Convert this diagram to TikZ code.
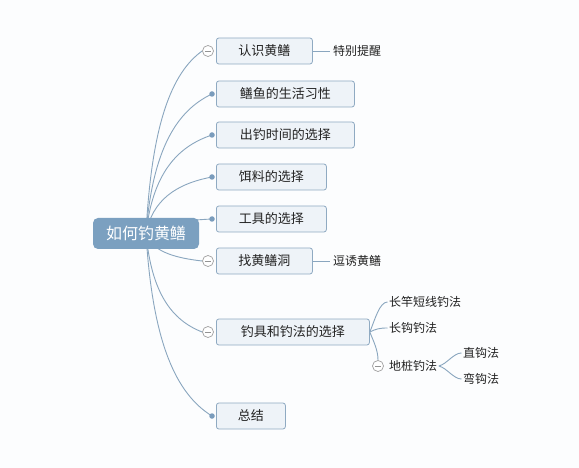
\documentclass[tikz,border=0pt]{standalone}
\usepackage{fontspec}
\newfontfamily\cjk{Noto Sans CJK SC}
\definecolor{bgc}{HTML}{FCFDFE}
\definecolor{rootfill}{HTML}{7BA0C0}
\definecolor{boxfill}{HTML}{EEF3F8}
\definecolor{boxdraw}{HTML}{8FAAC2}
\definecolor{linec}{HTML}{8AA6BF}
\definecolor{dotc}{HTML}{7A9CBC}
\definecolor{txt}{HTML}{222222}
\pgfdeclarelayer{back}
\pgfsetlayers{back,main}
\begin{document}
\begin{tikzpicture}[x=1pt,y=-1pt,
  box/.style={draw=boxdraw, fill=boxfill, rounded corners=2.5pt, minimum height=26pt,
    inner sep=0pt, anchor=west, font=\cjk\fontsize{13}{13}\selectfont, text=txt, line width=0.8pt},
  rootbox/.style={fill=rootfill, rounded corners=5pt, inner sep=0pt,
    font=\cjk\fontsize{16}{16}\selectfont, text=white},
  leaf/.style={anchor=west, inner sep=1.5pt, font=\cjk\fontsize{12}{12}\selectfont, text=txt},
  collapse/.style={circle, draw=gray!75, fill=white, minimum size=11pt, inner sep=0pt, line width=0.7pt,
    path picture={\draw[gray!85, line width=0.8pt] ([xshift=-3.2pt]path picture bounding box.center) -- ([xshift=3.2pt]path picture bounding box.center);}},
  dotn/.style={circle, fill=dotc, minimum size=5.5pt, inner sep=0pt},
  conn/.style={draw=linec, line width=0.9pt}]
\useasboundingbox (0,0) rectangle (579,468);
\begin{pgfonlayer}{back}
\fill[bgc] (0,0) rectangle (579,468);
\end{pgfonlayer}

% root
\node[rootbox, minimum width=106pt, minimum height=31pt] (root) at (146,233.5) {如何钓黄鳝};

% main branches
\node[box, minimum width=96pt]  (b1) at (216,51)  {认识黄鳝};
\node[box, minimum width=138pt] (b2) at (216,94)  {鳝鱼的生活习性};
\node[box, minimum width=138pt] (b3) at (216,135) {出钓时间的选择};
\node[box, minimum width=110pt] (b4) at (216,177) {饵料的选择};
\node[box, minimum width=110pt] (b5) at (216,219) {工具的选择};
\node[box, minimum width=96pt]  (b6) at (216,261) {找黄鳝洞};
\node[box, minimum width=153pt] (b7) at (216,332) {钓具和钓法的选择};
\node[box, minimum width=69pt]  (b8) at (216,416) {总结};

% markers
\node[collapse] (c1) at (208,51) {};
\node[dotn] (d2) at (212,94) {};
\node[dotn] (d3) at (212,135) {};
\node[dotn] (d4) at (212,177) {};
\node[dotn] (d5) at (212,219) {};
\node[collapse] (c6) at (208,261) {};
\node[collapse] (c7) at (208,332) {};
\node[dotn] (d8) at (212,416) {};

% leaves
\node[leaf, inner sep=3pt] (t1) at (330,51) {特别提醒};
\node[leaf, inner sep=3pt] (t6) at (330,261) {逗诱黄鳝};
\node[leaf] (s1) at (387.5,302) {长竿短线钓法};
\node[leaf] (s2) at (387.5,328) {长钩钓法};
\node[leaf] (s3) at (387.5,366) {地桩钓法};
\node[collapse] (c9) at (378,366) {};
\node[leaf] (u1) at (461.5,353) {直钩法};
\node[leaf] (u2) at (461.5,379) {弯钩法};

\begin{pgfonlayer}{back}
\draw[conn] (root.center) .. controls +(5.5,-109.2) and +(-30.5,21.8) .. (c1.west);
\draw[conn] (root.center) .. controls +(6.5,-83.4) and +(-35.7,16.7) .. (d2.center);
\draw[conn] (root.center) .. controls +(6.5,-58.8) and +(-35.7,11.8) .. (d3.center);
\draw[conn] (root.center) .. controls +(6.5,-33.6) and +(-35.7,6.7) .. (d4.center);
\draw[conn] (root.center) .. controls +(6.5,-8.4) and +(-35.7,1.7) .. (d5.center);
\draw[conn] (root.center) .. controls +(5.5,16.8) and +(-30.5,-3.4) .. (c6.west);
\draw[conn] (root.center) .. controls +(5.5,59.4) and +(-30.5,-11.9) .. (c7.west);
\draw[conn] (root.center) .. controls +(6.5,109.8) and +(-35.7,-22) .. (d8.center);
\draw[conn] (b1.east) -- (t1.west);
\draw[conn] (b6.east) -- (t6.west);
\draw[conn] (b7.east) .. controls +(5,-12) and +(-8,0) .. (s1.west);
\draw[conn] (b7.east) .. controls +(6,-3) and +(-8,0) .. (s2.west);
\draw[conn] (b7.east) .. controls +(4,10) and +(0,-10) .. (c9.north);
\draw[conn] (s3.east) .. controls +(8,-2) and +(-8,0) .. (u1.west);
\draw[conn] (s3.east) .. controls +(8,2) and +(-8,0) .. (u2.west);
\end{pgfonlayer}
\end{tikzpicture}
\end{document}
